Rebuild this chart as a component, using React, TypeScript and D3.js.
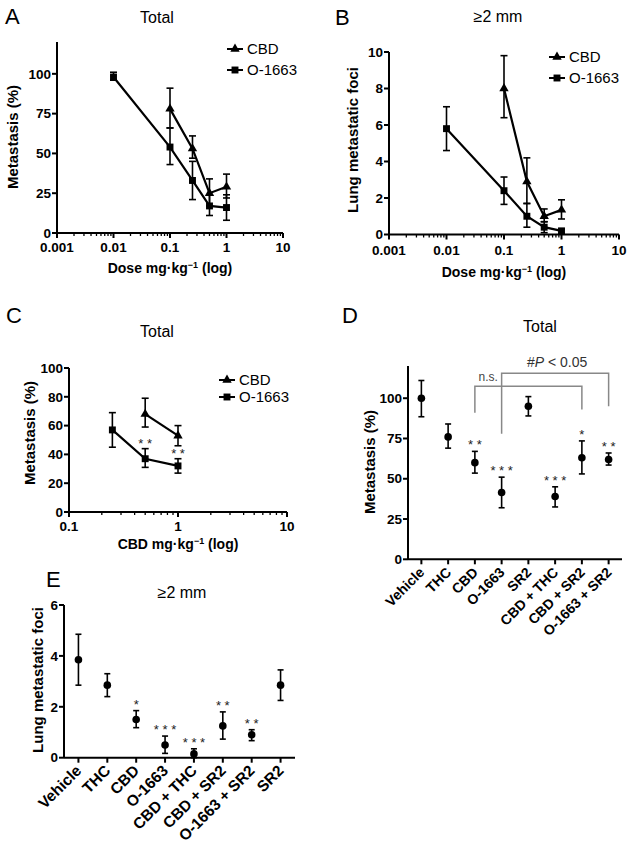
import * as d3 from "d3";

const FONT = "'Liberation Sans', Arial, Helvetica, sans-serif";

// ---- panel A: total metastasis vs dose ----
const aCbdDose = [0.1, 0.25, 0.5, 1];
const aCbdMean = [78, 53, 25, 29];
const aCbdLo = [66, 47, 17, 22];
const aCbdHi = [91, 61, 34, 37];
const aO1663Dose = [0.01, 0.1, 0.25, 0.5, 1];
const aO1663Mean = [98, 54, 33, 17, 16];
const aO1663Lo = [96, 43, 21, 11, 8];
const aO1663Hi = [101, 66, 45, 24, 24];

// ---- panel B: >=2 mm foci vs dose ----
const bCbdDose = [0.1, 0.25, 0.5, 1];
const bCbdMean = [8.0, 2.9, 1.0, 1.35];
const bCbdLo = [6.4, 1.7, 0.7, 0.85];
const bCbdHi = [9.8, 4.2, 1.4, 1.9];
const bO1663Dose = [0.01, 0.1, 0.25, 0.5, 1];
const bO1663Mean = [5.8, 2.4, 1.0, 0.4, 0.2];
const bO1663Lo = [4.6, 1.65, 0.4, 0.1, 0.05];
const bO1663Hi = [7.0, 3.15, 1.7, 0.7, 0.3];

// ---- panel C: total vs CBD dose ----
const cCbdDose = [0.5, 1];
const cCbdMean = [68, 53];
const cCbdLo = [59, 46];
const cCbdHi = [79, 60];
const cO1663Dose = [0.25, 0.5, 1];
const cO1663Mean = [57, 37, 32];
const cO1663Lo = [45, 31, 27];
const cO1663Hi = [69, 44, 37];
const cO1663Stars = ["", "* *", "* *"];

// ---- panel D: total by treatment ----
const dGroups = ["Vehicle", "THC", "CBD", "O-1663", "SR2", "CBD + THC", "CBD + SR2", "O-1663 + SR2"];
const dMean = [100, 76, 60, 41.5, 95, 39, 63, 62];
const dLo = [88.5, 69, 53.5, 32, 89, 32.5, 53, 58.5];
const dHi = [111, 84, 67, 51, 101, 45, 73.5, 66];
const dStars = ["", "", "* *", "* * *", "", "* * *", "*", "* *"];

// ---- panel E: >=2 mm by treatment ----
const eGroups = ["Vehicle", "THC", "CBD", "O-1663", "CBD + THC", "CBD + SR2", "O-1663 + SR2", "SR2"];
const eMean = [3.85, 2.85, 1.5, 0.5, 0.15, 1.25, 0.9, 2.85];
const eLo = [2.85, 2.4, 1.18, 0.17, 0.0, 0.73, 0.67, 2.25];
const eHi = [4.85, 3.3, 1.85, 0.85, 0.35, 1.8, 1.1, 3.45];
const eStars = ["", "", "*", "* * *", "* * *", "* *", "* *", ""];

type Series = {
  name: string;
  dose: number[];
  mean: number[];
  lo: number[];
  hi: number[];
  marker: "tri" | "sq";
  stars?: string[];
};

const triPath = d3.symbol(d3.symbolTriangle, 38)()!;
const sqPath = d3.symbol(d3.symbolSquare, 48)()!;

function Marker({ kind, x, y }: { kind: "tri" | "sq"; x: number; y: number }) {
  return <path d={kind === "tri" ? triPath : sqPath} transform={`translate(${x},${y})`} fill="#000" />;
}

function ErrBar({ x, y1, y2, w = 7 }: { x: number; y1: number; y2: number; w?: number }) {
  return (
    <g stroke="#000" strokeWidth={1.6}>
      <line x1={x} x2={x} y1={y1} y2={y2} />
      <line x1={x - w / 2} x2={x + w / 2} y1={y1} y2={y1} />
      <line x1={x - w / 2} x2={x + w / 2} y1={y2} y2={y2} />
    </g>
  );
}

function PerKg({ x, y, prefix }: { x: number; y: number; prefix: string }) {
  return (
    <text x={x} y={y} textAnchor="middle" fontSize={14} fontWeight="bold">
      {prefix}
      <tspan fontSize={9} dy={-5}>−1</tspan>
      <tspan fontSize={14} dy={5}> (log)</tspan>
    </text>
  );
}

type LogCfg = {
  letter: string; letterX: number; letterY: number;
  title: string; titleX: number; titleY: number;
  xDomain: [number, number]; xRange: [number, number];
  yDomain: [number, number]; yRange: [number, number];
  yTicks: number[]; xTicks: number[];
  xLabelY: number; xTitle: string; xTitleY: number;
  yTitle: string; yTitleX: number; yTitleY: number;
  series: Series[]; legendX: number; legendY: number[];
};

function LogPanel({ c }: { c: LogCfg }) {
  const x = d3.scaleLog().domain(c.xDomain).range(c.xRange);
  const y = d3.scaleLinear().domain(c.yDomain).range(c.yRange);
  const ax = c.xRange[0];
  const ay = c.yRange[0];
  const minor: number[] = [];
  const e0 = Math.round(Math.log10(c.xDomain[0]));
  const e1 = Math.round(Math.log10(c.xDomain[1]));
  for (let e = e0; e < e1; e++) {
    for (let k = 2; k <= 9; k++) minor.push(k * Math.pow(10, e));
  }
  const line = d3.line<[number, number]>().x((d) => d[0]).y((d) => d[1]);
  return (
    <g>
      <text x={c.letterX} y={c.letterY} fontSize={22}>{c.letter}</text>
      <text x={c.titleX} y={c.titleY} fontSize={16} textAnchor="middle">{c.title}</text>
      <line x1={ax} x2={ax} y1={ay} y2={c.yRange[1]} stroke="#000" strokeWidth={2} />
      <line x1={ax} x2={c.xRange[1]} y1={ay} y2={ay} stroke="#000" strokeWidth={2} />
      {c.yTicks.map((t) => (
        <g key={"y" + t}>
          <line x1={ax - 5} x2={ax} y1={y(t)} y2={y(t)} stroke="#000" strokeWidth={2} />
          <text x={ax - 6} y={y(t) + 4.7} textAnchor="end" fontSize={13.5} fontWeight="bold">{t}</text>
        </g>
      ))}
      {c.xTicks.map((t) => (
        <g key={"x" + t}>
          <line x1={x(t)} x2={x(t)} y1={ay} y2={ay + 5} stroke="#000" strokeWidth={2} />
          <text x={x(t)} y={c.xLabelY} textAnchor="middle" fontSize={13.5} fontWeight="bold">{String(t)}</text>
        </g>
      ))}
      {minor.map((t) => (
        <line key={"m" + t} x1={x(t)} x2={x(t)} y1={ay} y2={ay + 3} stroke="#000" strokeWidth={1.3} />
      ))}
      <PerKg x={(c.xRange[0] + c.xRange[1]) / 2} y={c.xTitleY} prefix={c.xTitle} />
      <text transform={`translate(${c.yTitleX},${c.yTitleY}) rotate(-90)`} textAnchor="middle" fontSize={15} fontWeight="bold">
        {c.yTitle}
      </text>
      {c.series.map((s) => {
        const pts = s.dose.map((d, i) => [x(d), y(s.mean[i])] as [number, number]);
        return (
          <g key={s.name}>
            <path d={line(pts) || ""} fill="none" stroke="#000" strokeWidth={2.2} />
            {s.dose.map((d, i) => (
              <g key={i}>
                <ErrBar x={x(d)} y1={y(s.lo[i])} y2={y(s.hi[i])} />
                <Marker kind={s.marker} x={x(d)} y={y(s.mean[i])} />
                {s.stars && s.stars[i] ? (
                  <text x={x(d)} y={y(s.hi[i]) - 1} textAnchor="middle" fontSize={13} fill="#222">{s.stars[i]}</text>
                ) : null}
              </g>
            ))}
          </g>
        );
      })}
      {c.series.map((s, i) => (
        <g key={"lg" + s.name}>
          <line x1={c.legendX} x2={c.legendX + 16} y1={c.legendY[i] - 5} y2={c.legendY[i] - 5} stroke="#000" strokeWidth={2} />
          <Marker kind={s.marker} x={c.legendX + 8} y={c.legendY[i] - 5} />
          <text x={c.legendX + 20} y={c.legendY[i]} fontSize={15}>{s.name}</text>
        </g>
      ))}
    </g>
  );
}

type CatCfg = {
  letter: string; letterX: number; letterY: number;
  title: string; titleX: number; titleY: number;
  groups: string[]; mean: number[]; lo: number[]; hi: number[]; stars: string[];
  xRange: [number, number]; yDomain: [number, number]; yRange: [number, number]; yTicks: number[];
  yTitle: string; yTitleX: number; yTitleY: number;
  starGap: number; labelSize: number;
};

function CatPanel({ c, brackets }: { c: CatCfg; brackets?: boolean }) {
  const x = d3.scalePoint<string>().domain(c.groups).range(c.xRange).padding(0.5);
  const y = d3.scaleLinear().domain(c.yDomain).range(c.yRange);
  const ax = c.xRange[0];
  const ay = c.yRange[0];
  return (
    <g>
      <text x={c.letterX} y={c.letterY} fontSize={22}>{c.letter}</text>
      <text x={c.titleX} y={c.titleY} fontSize={16} textAnchor="middle">{c.title}</text>
      <line x1={ax} x2={ax} y1={ay} y2={c.yRange[1]} stroke="#000" strokeWidth={2} />
      <line x1={ax} x2={c.xRange[1]} y1={ay} y2={ay} stroke="#000" strokeWidth={2} />
      {c.yTicks.map((t) => (
        <g key={"y" + t}>
          <line x1={ax - 5} x2={ax} y1={y(t)} y2={y(t)} stroke="#000" strokeWidth={2} />
          <text x={ax - 6} y={y(t) + 4.7} textAnchor="end" fontSize={13.5} fontWeight="bold">{t}</text>
        </g>
      ))}
      {c.groups.map((g) => (
        <g key={"x" + g}>
          <line x1={x(g)!} x2={x(g)!} y1={ay} y2={ay + 5} stroke="#000" strokeWidth={2} />
          <text
            transform={`translate(${x(g)! + 4},${ay + 14}) rotate(-45)`}
            textAnchor="end"
            fontSize={c.labelSize}
            fontWeight="bold"
          >
            {g}
          </text>
        </g>
      ))}
      <text transform={`translate(${c.yTitleX},${c.yTitleY}) rotate(-90)`} textAnchor="middle" fontSize={15} fontWeight="bold">
        {c.yTitle}
      </text>
      {c.groups.map((g, i) => (
        <g key={"p" + g}>
          <ErrBar x={x(g)!} y1={y(c.lo[i])} y2={y(c.hi[i])} w={6} />
          <circle cx={x(g)!} cy={y(c.mean[i])} r={3.8} fill="#000" />
          {c.stars[i] ? (
            <text x={x(g)!} y={y(c.hi[i]) - c.starGap} textAnchor="middle" fontSize={13} fill="#222">{c.stars[i]}</text>
          ) : null}
        </g>
      ))}
      {brackets ? (
        <g stroke="#888" strokeWidth={1.5} fill="none">
          {/* n.s.: CBD vs CBD + SR2 */}
          <path d={`M${x("CBD")},${y(91)} V${y(107.5)} H${x("CBD + SR2")} V${y(93)}`} />
          {/* #P<0.05: O-1663 vs O-1663 + SR2 */}
          <path d={`M${x("O-1663")},${y(78)} V${y(115.5)} H${x("O-1663 + SR2")} V${y(95)}`} />
        </g>
      ) : null}
      {brackets ? (
        <g>
          <text x={(x("CBD")! + x("O-1663")!) / 2} y={y(110.5)} textAnchor="middle" fontSize={12} fill="#444">n.s.</text>
          <text x={x("CBD + THC")! + 2} y={y(119.5)} textAnchor="middle" fontSize={14} fill="#333">
            #<tspan fontStyle="italic">P</tspan> {"< 0.05"}
          </text>
        </g>
      ) : null}
    </g>
  );
}

const panelA: LogCfg = {
  letter: "A", letterX: 5, letterY: 24,
  title: "Total", titleX: 157, titleY: 23,
  xDomain: [0.001, 10], xRange: [57, 283],
  yDomain: [0, 120], yRange: [233, 42],
  yTicks: [0, 25, 50, 75, 100], xTicks: [0.001, 0.01, 0.1, 1, 10],
  xLabelY: 252, xTitle: "Dose mg·kg", xTitleY: 273,
  yTitle: "Metastasis (%)", yTitleX: 18, yTitleY: 137,
  series: [
    { name: "CBD", dose: aCbdDose, mean: aCbdMean, lo: aCbdLo, hi: aCbdHi, marker: "tri" },
    { name: "O-1663", dose: aO1663Dose, mean: aO1663Mean, lo: aO1663Lo, hi: aO1663Hi, marker: "sq" },
  ],
  legendX: 227, legendY: [54, 75],
};

const panelB: LogCfg = {
  letter: "B", letterX: 335, letterY: 25,
  title: "≥2 mm", titleX: 498, titleY: 22,
  xDomain: [0.001, 10], xRange: [389, 619],
  yDomain: [0, 10], yRange: [234.5, 52],
  yTicks: [0, 2, 4, 6, 8, 10], xTicks: [0.001, 0.01, 0.1, 1, 10],
  xLabelY: 255, xTitle: "Dose mg·kg", xTitleY: 277,
  yTitle: "Lung metastatic foci", yTitleX: 358, yTitleY: 140,
  series: [
    { name: "CBD", dose: bCbdDose, mean: bCbdMean, lo: bCbdLo, hi: bCbdHi, marker: "tri" },
    { name: "O-1663", dose: bO1663Dose, mean: bO1663Mean, lo: bO1663Lo, hi: bO1663Hi, marker: "sq" },
  ],
  legendX: 549, legendY: [62, 83],
};

const panelC: LogCfg = {
  letter: "C", letterX: 6, letterY: 323,
  title: "Total", titleX: 157, titleY: 337,
  xDomain: [0.1, 10], xRange: [69, 287],
  yDomain: [0, 100], yRange: [512, 368],
  yTicks: [0, 20, 40, 60, 80, 100], xTicks: [0.1, 1, 10],
  xLabelY: 531, xTitle: "CBD mg·kg", xTitleY: 549,
  yTitle: "Metastasis (%)", yTitleX: 35, yTitleY: 433,
  series: [
    { name: "CBD", dose: cCbdDose, mean: cCbdMean, lo: cCbdLo, hi: cCbdHi, marker: "tri" },
    { name: "O-1663", dose: cO1663Dose, mean: cO1663Mean, lo: cO1663Lo, hi: cO1663Hi, marker: "sq", stars: cO1663Stars },
  ],
  legendX: 219, legendY: [385, 402],
};

const panelD: CatCfg = {
  letter: "D", letterX: 342, letterY: 323,
  title: "Total", titleX: 540, titleY: 332,
  groups: dGroups, mean: dMean, lo: dLo, hi: dHi, stars: dStars,
  xRange: [408, 622], yDomain: [0, 120], yRange: [559.3, 366], yTicks: [0, 25, 50, 75, 100],
  yTitle: "Metastasis (%)", yTitleX: 375, yTitleY: 462, starGap: 2, labelSize: 14,
};

const panelE: CatCfg = {
  letter: "E", letterX: 46, letterY: 587,
  title: "≥2 mm", titleX: 182, titleY: 598,
  groups: eGroups, mean: eMean, lo: eLo, hi: eHi, stars: eStars,
  xRange: [64, 295], yDomain: [0, 6], yRange: [757.7, 605], yTicks: [0, 2, 4, 6],
  yTitle: "Lung metastatic foci", yTitleX: 43, yTitleY: 680, starGap: 2, labelSize: 15.5,
};

export default function App() {
  return (
    <div style={{ position: "absolute", left: 0, top: 0, background: "#fff" }}>
      <svg width={629} height={845} style={{ display: "block", fontFamily: FONT }}>
        <rect width={629} height={845} fill="#fff" />
        <LogPanel c={panelA} />
        <LogPanel c={panelB} />
        <LogPanel c={panelC} />
        <CatPanel c={panelD} brackets />
        <CatPanel c={panelE} />
      </svg>
    </div>
  );
}
